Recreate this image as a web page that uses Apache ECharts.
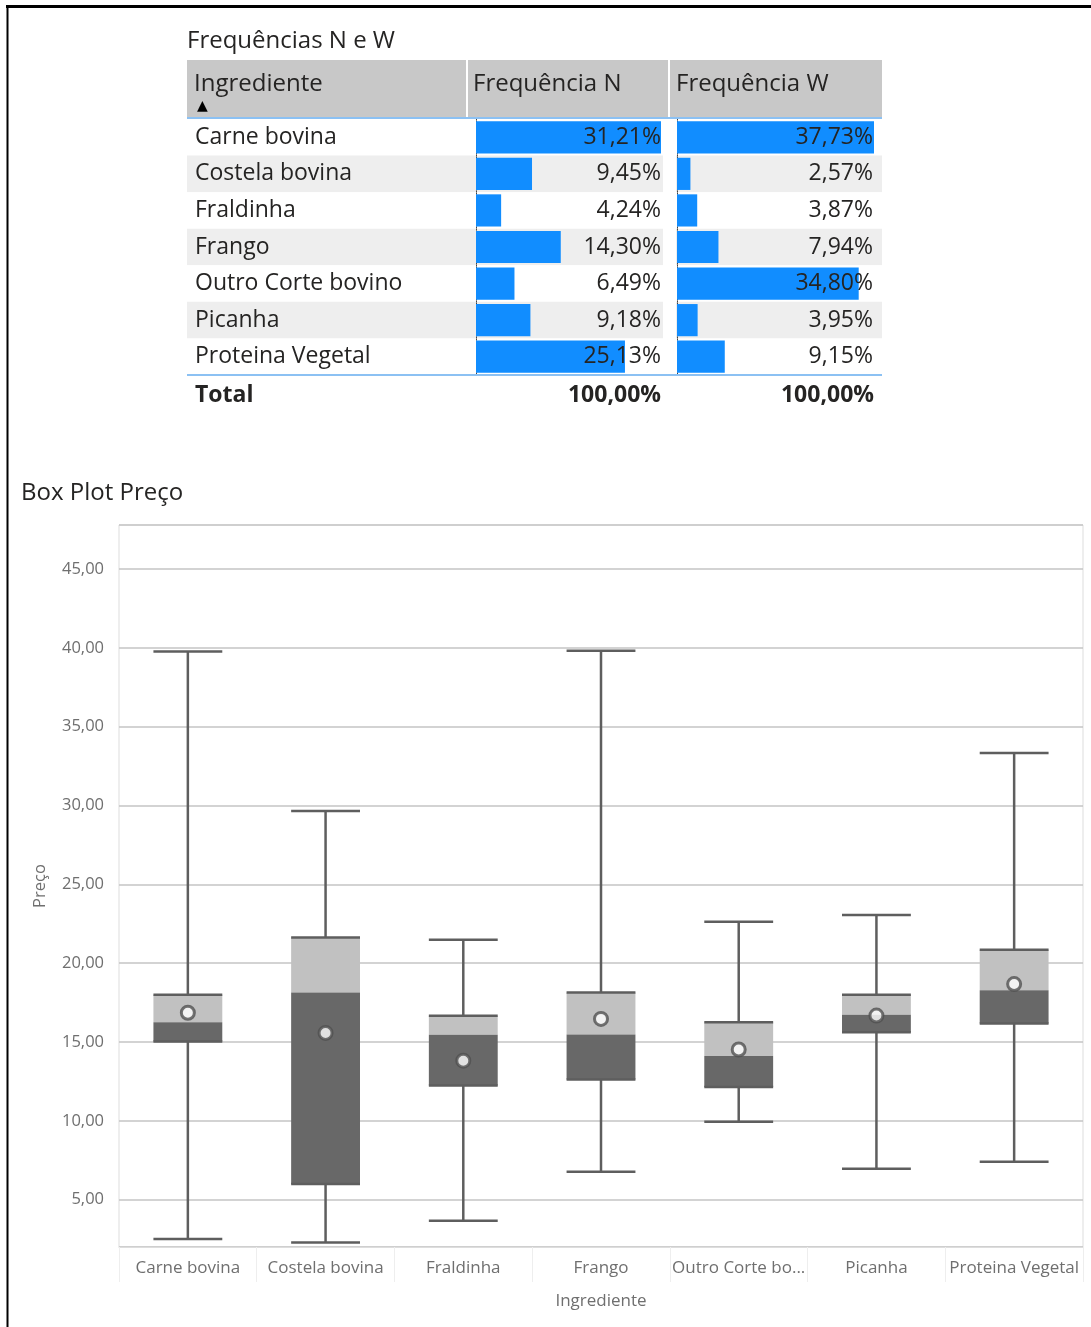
<!DOCTYPE html>
<html><head><meta charset="utf-8">
<script src="https://cdn.jsdelivr.net/npm/echarts@6/dist/echarts.min.js"></script>
<style>html,body{margin:0;padding:0;background:#fff}#c{width:1091px;height:1327px}</style>
</head><body><div id="c"></div>
<script>
// ---- Table data ----
const ingredients = ['Carne bovina','Costela bovina','Fraldinha','Frango','Outro Corte bovino','Picanha','Proteina Vegetal'];
const freqN = [31.21, 9.45, 4.24, 14.30, 6.49, 9.18, 25.13];
const freqW = [37.73, 2.57, 3.87, 7.94, 34.80, 3.95, 9.15];
const totalN = 100.00;
const totalW = 100.00;
const tableHeaders = ['Ingrediente','Frequência N','Frequência W'];

// ---- Box plot data ----
const boxCategories = ['Carne bovina','Costela bovina','Fraldinha','Frango','Outro Corte bovino','Picanha','Proteina Vegetal'];
const whiskerMin = [2.51, 2.29, 3.67, 6.77, 9.94, 6.96, 7.40];
const q1 =         [15.04, 6.00, 12.24, 12.63, 12.15, 15.62, 16.17];
const median =     [16.25, 18.15, 15.47, 15.48, 14.11, 16.74, 18.28];
const q3 =         [18.00, 21.64, 16.67, 18.15, 16.26, 18.00, 20.85];
const whiskerMax = [39.78, 29.66, 21.49, 39.82, 22.64, 23.06, 33.34];
const mean =       [16.86, 15.58, 13.82, 16.47, 14.53, 16.68, 18.68];

const FONT = "'Segoe UI', 'Open Sans', sans-serif";
const pct = v => v.toFixed(2).replace('.', ',') + '%';
const num = v => v.toFixed(2).replace('.', ',');

const chart = echarts.init(document.getElementById('c'), null, {renderer: 'canvas'});

const boxData = boxCategories.map((c, i) => [i, whiskerMin[i], q1[i], median[i], q3[i], whiskerMax[i]]);
const maxN = Math.max(...freqN);
const maxW = Math.max(...freqW);

const textCol = '#252423';
const axisGray = '#6f6f6f';

const option = {
  animation: false,
  backgroundColor: '#ffffff',
  textStyle: {fontFamily: FONT},
  title: [
    {text: 'Frequências N e W', left: 182, top: 24,
     textStyle: {fontFamily: FONT, fontSize: 24, fontWeight: 'normal', color: textCol}},
    {text: 'Box Plot Preço', left: 16, top: 476,
     textStyle: {fontFamily: FONT, fontSize: 24, fontWeight: 'normal', color: textCol}}
  ],
  grid: [
    // 0: box plot
    {left: 119, right: 8, top: 525, bottom: 80, show: true, borderColor: '#dddddd', borderWidth: 1, containLabel: false},
    // 1: table names / row backgrounds
    {left: 187, top: 119, width: 695, height: 256},
    // 2: Frequência N bars
    {left: 476, top: 119, width: 185, height: 256},
    // 3: Frequência W bars
    {left: 677, top: 119, width: 197, height: 256}
  ],
  xAxis: [
    {type: 'category', gridIndex: 0, data: boxCategories, boundaryGap: true,
     axisLine: {show: true, lineStyle: {color: '#dddddd'}},
     axisTick: {show: true, interval: 0, length: 35, lineStyle: {color: '#eeeeee'}},
     axisLabel: {interval: 0, color: axisGray, fontSize: 17, fontFamily: FONT, margin: 13, width: 136, overflow: 'truncate', ellipsis: '...'},
     name: 'Ingrediente', nameLocation: 'middle', nameGap: 46,
     nameTextStyle: {color: axisGray, fontSize: 17, fontFamily: FONT}},
    {type: 'value', gridIndex: 1, min: 0, max: 1, show: false},
    {type: 'value', gridIndex: 2, min: 0, max: maxN, show: false},
    {type: 'value', gridIndex: 3, min: 0, max: maxW, show: false}
  ],
  yAxis: [
    {type: 'value', gridIndex: 0, min: 2, max: 47.8, splitNumber: 9,
     axisLine: {show: false}, axisTick: {show: false},
     axisLabel: {color: axisGray, fontSize: 16.5, fontFamily: FONT, margin: 15, showMinLabel: false, showMaxLabel: false, formatter: num},
     splitLine: {show: true, lineStyle: {color: '#c4c4c4', width: 1.5}},
     name: 'Preço', nameLocation: 'middle', nameGap: 70, nameRotate: 90,
     nameTextStyle: {color: axisGray, fontSize: 16.5, fontFamily: FONT}},
    {type: 'category', gridIndex: 1, data: ingredients, inverse: true,
     axisLine: {show: false}, axisTick: {show: false},
     axisLabel: {inside: true, margin: 8, color: textCol, fontSize: 23, fontFamily: FONT, padding: [8, 0, 0, 0]},
     splitArea: {show: true, areaStyle: {color: ['#ffffff', '#eeeeee']}},
     splitLine: {show: false}},
    {type: 'category', gridIndex: 2, data: ingredients, inverse: true,
     axisLine: {show: true, lineStyle: {color: '#444444', type: 'dotted', width: 1}},
     axisTick: {show: false}, axisLabel: {show: false}, splitLine: {show: false}},
    {type: 'category', gridIndex: 3, data: ingredients, inverse: true,
     axisLine: {show: true, lineStyle: {color: '#444444', type: 'dotted', width: 1}},
     axisTick: {show: false}, axisLabel: {show: false}, splitLine: {show: false}}
  ],
  series: [
    {type: 'custom', name: 'Preço', xAxisIndex: 0, yAxisIndex: 0, data: boxData,
     encode: {x: 0, y: [1, 2, 3, 4, 5]}, z: 3,
     renderItem: function (params, api) {
       const i = api.value(0);
       const lo = api.coord([i, api.value(1)]);
       const qa = api.coord([i, api.value(2)]);
       const md = api.coord([i, api.value(3)]);
       const qb = api.coord([i, api.value(4)]);
       const hi = api.coord([i, api.value(5)]);
       const bw = api.size([1, 0])[0] * 0.5;
       const x = lo[0];
       const x0 = x - bw / 2;
       const ls = {stroke: '#5e5e5e', lineWidth: 2.5};
       return {type: 'group', children: [
         {type: 'line', shape: {x1: x, y1: hi[1], x2: x, y2: qb[1]}, style: ls},
         {type: 'line', shape: {x1: x, y1: qa[1], x2: x, y2: lo[1]}, style: ls},
         {type: 'line', shape: {x1: x0, y1: hi[1], x2: x0 + bw, y2: hi[1]}, style: ls},
         {type: 'line', shape: {x1: x0, y1: lo[1], x2: x0 + bw, y2: lo[1]}, style: ls},
         {type: 'rect', shape: {x: x0, y: qb[1], width: bw, height: md[1] - qb[1]}, style: {fill: '#c1c1c1'}},
         {type: 'rect', shape: {x: x0, y: md[1], width: bw, height: qa[1] - md[1]}, style: {fill: '#686868'}},
         {type: 'line', shape: {x1: x0, y1: qb[1], x2: x0 + bw, y2: qb[1]}, style: ls},
         {type: 'line', shape: {x1: x0, y1: qa[1], x2: x0 + bw, y2: qa[1]}, style: ls}
       ]};
     }},
    {type: 'scatter', name: 'Média', xAxisIndex: 0, yAxisIndex: 0, data: mean, z: 5,
     symbol: 'circle', symbolSize: 13,
     itemStyle: {color: '#ffffff', borderColor: '#505050', borderWidth: 3}},
    // table N
    {type: 'bar', name: 'Frequência N', xAxisIndex: 2, yAxisIndex: 2, data: freqN,
     barCategoryGap: '12%', itemStyle: {color: '#118DFF'}, z: 2},
    {type: 'bar', name: 'N rótulos', xAxisIndex: 2, yAxisIndex: 2, data: freqN.map(() => maxN),
     barGap: '-100%', barCategoryGap: '12%', itemStyle: {color: 'rgba(0,0,0,0)'}, z: 4, silent: true,
     label: {show: true, position: 'insideRight', distance: 0, color: textCol, fontSize: 23, fontFamily: FONT, padding: [8, 0, 0, 0],
             formatter: p => pct(freqN[p.dataIndex])}},
    // table W
    {type: 'bar', name: 'Frequência W', xAxisIndex: 3, yAxisIndex: 3, data: freqW,
     barCategoryGap: '12%', itemStyle: {color: '#118DFF'}, z: 2},
    {type: 'bar', name: 'W rótulos', xAxisIndex: 3, yAxisIndex: 3, data: freqW.map(() => maxW),
     barGap: '-100%', barCategoryGap: '12%', itemStyle: {color: 'rgba(0,0,0,0)'}, z: 4, silent: true,
     label: {show: true, position: 'insideRight', distance: 1, color: textCol, fontSize: 23, fontFamily: FONT, padding: [8, 0, 0, 0],
             formatter: p => pct(freqW[p.dataIndex])}}
  ],
  graphic: [
    // page frame
    {type: 'line', shape: {x1: 6, y1: 6.5, x2: 1091, y2: 6.5}, style: {stroke: '#000', lineWidth: 3}, z: 10},
    {type: 'line', shape: {x1: 7.5, y1: 5, x2: 7.5, y2: 1327}, style: {stroke: '#000', lineWidth: 2}, z: 10},
    // header
    {type: 'rect', shape: {x: 187, y: 60, width: 695, height: 58}, style: {fill: '#c8c8c8'}, z: 1},
    {type: 'rect', shape: {x: 466, y: 60, width: 2, height: 58}, style: {fill: '#ffffff'}, z: 2},
    {type: 'rect', shape: {x: 668, y: 60, width: 2, height: 58}, style: {fill: '#ffffff'}, z: 2},
    {type: 'text', left: 194, top: 72, style: {text: tableHeaders[0], fontSize: 24, fontFamily: FONT, fill: textCol}, z: 3},
    {type: 'text', left: 473, top: 72, style: {text: tableHeaders[1], fontSize: 24, fontFamily: FONT, fill: textCol}, z: 3},
    {type: 'text', left: 676, top: 72, style: {text: tableHeaders[2], fontSize: 24, fontFamily: FONT, fill: textCol}, z: 3},
    {type: 'text', left: 197, top: 99, style: {text: '▲', fontSize: 14, fontFamily: 'DejaVu Sans', fill: '#000'}, z: 3},
    // column gap
    {type: 'rect', shape: {x: 663, y: 118, width: 13, height: 257}, style: {fill: '#ffffff'}, z: 1},
    // blue rules
    {type: 'rect', shape: {x: 187, y: 117, width: 695, height: 2}, style: {fill: '#8cc1f3'}, z: 3},
    {type: 'rect', shape: {x: 187, y: 374, width: 695, height: 2}, style: {fill: '#8cc1f3'}, z: 3},
    // totals
    {type: 'text', left: 195, top: 384, style: {text: 'Total', fontSize: 23, fontWeight: 'bold', fontFamily: FONT, fill: textCol}, z: 3},
    {type: 'text', right: 1091 - 661, top: 384, style: {text: pct(totalN), fontSize: 23, fontWeight: 'bold', fontFamily: FONT, fill: textCol}, z: 3},
    {type: 'text', right: 1091 - 874, top: 384, style: {text: pct(totalW), fontSize: 23, fontWeight: 'bold', fontFamily: FONT, fill: textCol}, z: 3}
  ]
};
chart.setOption(option);
</script>
</body></html>
